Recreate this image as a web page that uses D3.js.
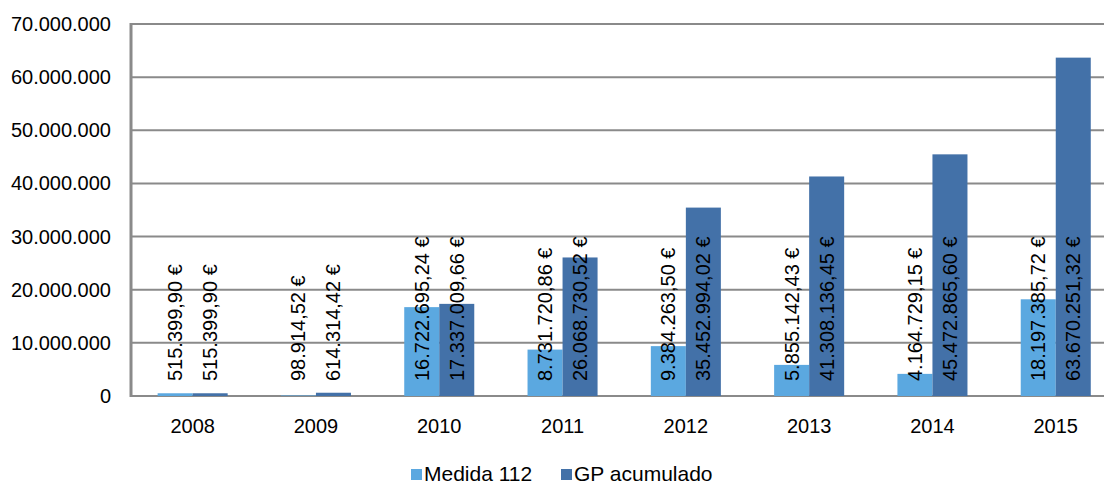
<!DOCTYPE html>
<html>
<head>
<meta charset="utf-8">
<script src="https://cdn.jsdelivr.net/npm/d3@7"></script>
<style>
  html, body { margin: 0; padding: 0; background: #fff; }
  svg { display: block; font-family: "Liberation Sans", Arial, sans-serif; }
</style>
</head>
<body>
<svg id="chart"></svg>
<script>
'use strict';

const WIDTH = 1104;
const HEIGHT = 486;

const years = ['2008', '2009', '2010', '2011', '2012', '2013', '2014', '2015'];
const medida112 = [515399.90, 98914.52, 16722695.24, 8731720.86, 9384263.50, 5855142.43, 4164729.15, 18197385.72];
const gpAcumulado = [515399.90, 614314.42, 17337009.66, 26068730.52, 35452994.02, 41308136.45, 45472865.60, 63670251.32];
const yTicks = [0, 10000000, 20000000, 30000000, 40000000, 50000000, 60000000, 70000000];

const SERIES = [
  { name: 'Medida 112', values: medida112, color: '#5BA8E0' },
  { name: 'GP acumulado', values: gpAcumulado, color: '#4371A8' },
];

const locale = d3.formatLocale({ decimal: ',', thousands: '.', grouping: [3], currency: ['', ' €'] });
const fmtAxis = locale.format(',.0f');
const fmtVal = v => locale.format(',.2f')(v) + ' €';

const LEFT = 131;
const TOP = 24;
const BOTTOM = 396;

const svg = d3.select('#chart')
  .attr('width', WIDTH)
  .attr('height', HEIGHT)
  .attr('viewBox', `0 0 ${WIDTH} ${HEIGHT}`);

const y = d3.scaleLinear().domain([0, 70000000]).range([BOTTOM, TOP]);
const x = d3.scaleBand().domain(years).range([LEFT, LEFT + 8 * 123.3])
  .paddingInner(0.432).paddingOuter(0.216);
const xs = d3.scaleBand().domain(SERIES.map(s => s.name)).range([0, x.bandwidth()]);

// gridlines
svg.append('g')
  .selectAll('line')
  .data(yTicks)
  .join('line')
  .attr('x1', LEFT).attr('x2', WIDTH)
  .attr('y1', d => y(d)).attr('y2', d => y(d))
  .attr('stroke', '#8a8a8a').attr('stroke-width', 2);

// y axis labels
svg.append('g')
  .selectAll('text')
  .data(yTicks)
  .join('text')
  .attr('x', 111).attr('y', d => y(d))
  .attr('text-anchor', 'end').attr('dominant-baseline', 'central')
  .attr('font-size', 20).attr('fill', '#000')
  .text(d => fmtAxis(d));

// left axis line
svg.append('line')
  .attr('x1', LEFT).attr('x2', LEFT).attr('y1', TOP - 1).attr('y2', BOTTOM + 1)
  .attr('stroke', '#8a8a8a').attr('stroke-width', 3);

// bars
const groups = svg.append('g')
  .selectAll('g')
  .data(years)
  .join('g')
  .attr('transform', d => `translate(${x(d)},0)`);

SERIES.forEach(s => {
  groups.append('rect')
    .attr('x', xs(s.name))
    .attr('width', xs.bandwidth())
    .attr('y', (d, i) => y(s.values[i]))
    .attr('height', (d, i) => BOTTOM - y(s.values[i]))
    .attr('fill', s.color);
});

// value labels, rotated, starting near the base
SERIES.forEach(s => {
  groups.append('text')
    .attr('transform', `translate(${xs(s.name) + xs.bandwidth() / 2},${BOTTOM - 15}) rotate(-90)`)
    .attr('dominant-baseline', 'central')
    .attr('font-size', 20).attr('fill', '#000')
    .text((d, i) => fmtVal(s.values[i]));
});

// x axis labels
svg.append('g')
  .selectAll('text')
  .data(years)
  .join('text')
  .attr('x', d => x(d) + x.bandwidth() / 2).attr('y', 433)
  .attr('text-anchor', 'middle')
  .attr('font-size', 20).attr('fill', '#000')
  .text(d => d);

// legend
const legend = svg.append('g').attr('transform', 'translate(411,481)');
const legendX = [0, 150];
SERIES.forEach((s, i) => {
  const g = legend.append('g').attr('transform', `translate(${legendX[i]},0)`);
  g.append('rect').attr('x', 0).attr('y', -12).attr('width', 11).attr('height', 11).attr('fill', s.color);
  g.append('text').attr('x', 13).attr('y', 0)
    .attr('font-size', 21).attr('fill', '#000')
    .text(s.name);
});
</script>
</body>
</html>
